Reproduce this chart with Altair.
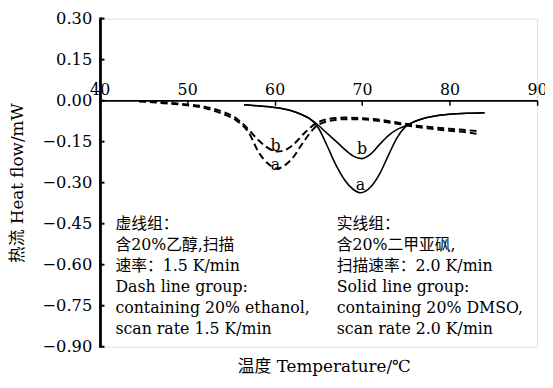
import altair as alt
import pandas as pd

# ---- data ----
dash_a_x = [44.5, 46, 48, 50, 52, 54, 55.5, 57, 58.2, 59.3, 60.3, 61, 62, 63.4, 64.6, 66, 68, 70, 72, 74, 76, 78, 80, 82, 83.5]
dash_a_y = [-0.003, -0.006, -0.011, -0.017, -0.027, -0.048, -0.070, -0.115, -0.190, -0.232, -0.248, -0.240, -0.212, -0.146, -0.098, -0.076, -0.068, -0.068, -0.075, -0.085, -0.095, -0.103, -0.110, -0.116, -0.124]

dash_b_x = [44.5, 46, 48, 50, 52, 54, 55.5, 57, 58, 59, 60.3, 61, 62, 63.3, 64.6, 66, 68, 70, 72, 74, 76, 78, 80, 82, 83.5]
dash_b_y = [-0.001, -0.004, -0.008, -0.014, -0.022, -0.040, -0.062, -0.105, -0.140, -0.168, -0.186, -0.183, -0.165, -0.122, -0.086, -0.068, -0.062, -0.064, -0.070, -0.080, -0.090, -0.097, -0.103, -0.108, -0.112]

solid_a_x = [56.5, 58, 60, 62, 63, 64, 65, 66, 67, 68, 69, 69.8, 71, 72, 73, 74, 75, 76, 77, 78, 80, 82, 84]
solid_a_y = [-0.015, -0.019, -0.025, -0.038, -0.050, -0.066, -0.100, -0.165, -0.235, -0.290, -0.325, -0.337, -0.315, -0.268, -0.200, -0.135, -0.094, -0.076, -0.065, -0.058, -0.050, -0.046, -0.044]

solid_b_x = [56.5, 58, 60, 62, 63, 64, 65, 66, 67, 68, 69, 70, 71, 72, 73, 74, 75, 76, 77, 78, 80, 82, 84]
solid_b_y = [-0.015, -0.019, -0.025, -0.038, -0.050, -0.066, -0.090, -0.120, -0.148, -0.178, -0.203, -0.212, -0.195, -0.160, -0.128, -0.105, -0.092, -0.076, -0.065, -0.058, -0.050, -0.046, -0.044]

letters = ["b", "a", "b", "a"]
letter_x = [60.1, 60.1, 70.0, 69.8]
letter_y = [-0.165, -0.236, -0.176, -0.308]

note_left = ["虚线组：", "含20%乙醇,扫描", "速率：1.5 K/min", "Dash line group:",
             "containing 20% ethanol,", " scan rate 1.5 K/min"]
note_right = ["实线组：", "含20%二甲亚砜,", "扫描速率：2.0 K/min", "Solid line group:",
              "containing 20% DMSO,", " scan rate 2.0 K/min"]
note_x = [41.8, 67.1]
note_y = [-0.422, -0.422]

x_ticks = [40, 50, 60, 70, 80, 90]
y_ticks = [0.30, 0.15, 0.00, -0.15, -0.30, -0.45, -0.60, -0.75, -0.90]

FONT = "DejaVu Serif, Noto Sans CJK SC"

rows = []
for name, xs, ys in [("dash_a", dash_a_x, dash_a_y), ("dash_b", dash_b_x, dash_b_y),
                     ("solid_a", solid_a_x, solid_a_y), ("solid_b", solid_b_x, solid_b_y)]:
    for i, (xv, yv) in enumerate(zip(xs, ys)):
        rows.append({"series": name, "x": xv, "y": yv, "order": i})
df = pd.DataFrame(rows)
dash_df = df[df.series.str.startswith("dash")]
solid_df = df[df.series.str.startswith("solid")]

letters_df = pd.DataFrame({"t": letters, "x": letter_x, "y": letter_y})
notes_df = pd.DataFrame({"t": ["\n".join(note_left), "\n".join(note_right)], "x": note_x, "y": note_y})
# inward y ticks: from the axis (x=40) a short way into the plot
ytick_df = pd.DataFrame({"y": y_ticks, "x": [x_ticks[0]] * len(y_ticks),
                         "x2": [x_ticks[0] + 0.55] * len(y_ticks)})
# y axis line along x=40 from top to bottom of the value range
yline_df = pd.DataFrame({"x": [x_ticks[0]], "y": [y_ticks[0]], "y2": [y_ticks[-1]]})

xscale = alt.Scale(domain=[40, 90], nice=False, zero=False)
yscale = alt.Scale(domain=[-0.9, 0.3], nice=False, zero=False)

x_axis = alt.Axis(orient="bottom", offset=-250, values=x_ticks, tickSize=5, tickWidth=1.5,
                  tickColor="black", domainColor="black", domainWidth=2, labelPadding=-10.5,
                  labelBaseline="alphabetic", labelFont=FONT, labelFontSize=16, labelColor="black",
                  grid=False, labelFlush=False, labelOverlap=False)
X = alt.X("x:Q", scale=xscale, axis=x_axis, title=None)

y_axis = alt.Axis(orient="left", values=y_ticks, format=".2f", ticks=False, labelPadding=8,
                  domain=True, domainColor="black", domainWidth=2, domainOpacity=1, zindex=1,
                  labelFont=FONT, labelFontSize=16.5,
                  labelColor="black", grid=False, titleFont=FONT, titleFontSize=17,
                  titleFontWeight="normal", titleColor="black", titlePadding=16,
                  labelOverlap=False, labelFlush=False)
Y = alt.Y("y:Q", scale=yscale, axis=y_axis, title="热流 Heat flow/mW")

solid = alt.Chart(solid_df).mark_line(color="black", strokeWidth=1.6,
                                      interpolate="monotone").encode(
    x=X, y=Y, detail="series:N", order="order:Q",
)

dashed = alt.Chart(dash_df).mark_line(color="black", strokeWidth=2, strokeDash=[7, 4],
                                      interpolate="monotone").encode(
    x=X, y=Y, detail="series:N", order="order:Q",
)

yticks_layer = alt.Chart(ytick_df).mark_rule(color="black", strokeWidth=2).encode(
    x=X, x2="x2:Q", y=Y,
)

yline_layer = alt.Chart(yline_df).mark_rule(color="black", strokeWidth=2.5, xOffset=1,
                                            strokeCap="square").encode(
    x=X, y=Y, y2="y2:Q",
)

letter_layer = alt.Chart(letters_df).mark_text(font=FONT, fontSize=16, color="black",
                                               baseline="middle", align="center").encode(
    x=X, y=Y, text="t:N",
)

notes_layer = alt.Chart(notes_df).mark_text(font=FONT, fontSize=16, color="black",
                                            baseline="top", align="left", lineBreak="\n",
                                            lineHeight=21.3).encode(
    x=X, y=Y, text="t:N",
)

chart = alt.layer(solid, dashed, yticks_layer, yline_layer, letter_layer, notes_layer).properties(
    width=444,
    height=333,
    autosize=alt.AutoSizeParams(type="none"),
    padding={"left": 93, "top": 8, "right": 8, "bottom": 31},
    title=alt.TitleParams(text="温度 Temperature/℃", orient="bottom", font=FONT, fontSize=17,
                          fontWeight="normal", color="black", frame="group", anchor="middle",
                          offset=4, dx=6),
).configure_view(stroke=None).configure(background="white")

chart.save("out.html", embed_options={"renderer": "svg", "actions": False})
